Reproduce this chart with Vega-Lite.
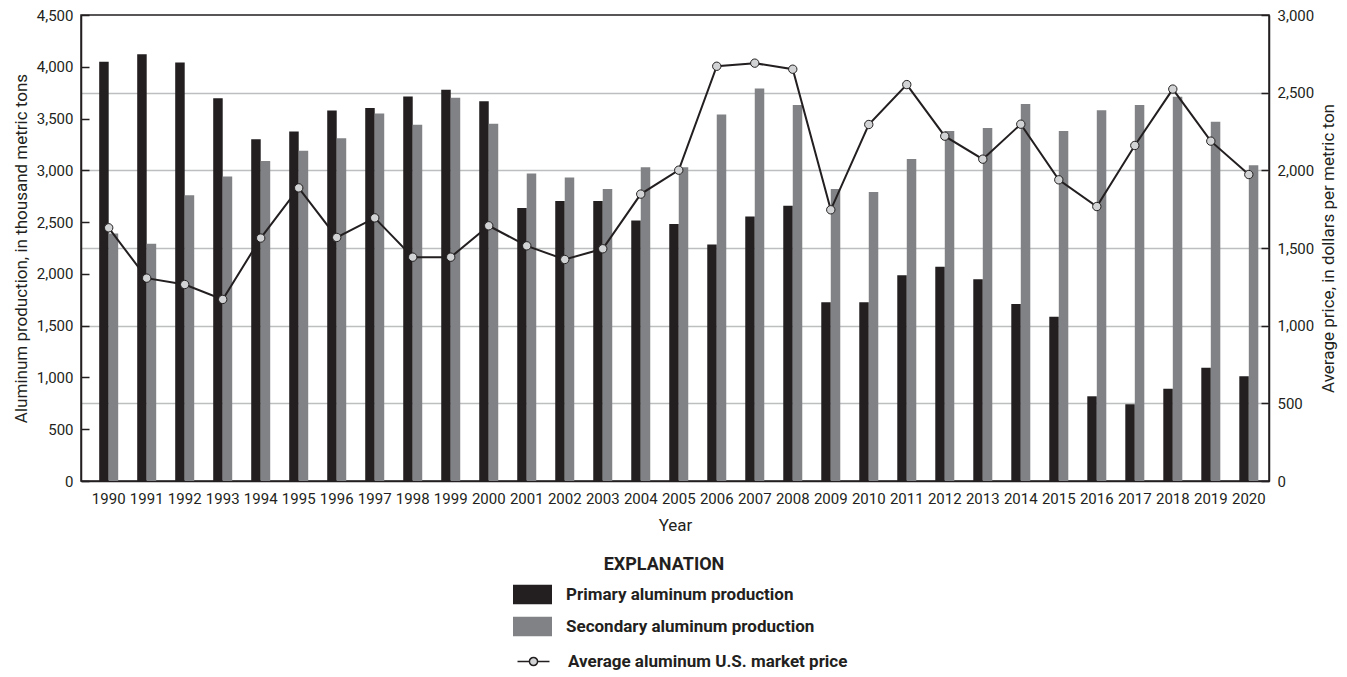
{
  "$schema": "https://vega.github.io/schema/vega-lite/v6.json",
  "width": 1188,
  "height": 466,
  "padding": {"left": 12, "top": 8, "right": 2, "bottom": 5},
  "config": {
    "font": "Roboto, sans-serif",
    "view": {"stroke": "#231f20", "strokeWidth": 1.5},
    "axis": {
      "labelFont": "Roboto, sans-serif",
      "labelFontSize": 15,
      "labelColor": "#231f20",
      "titleFont": "Roboto, sans-serif",
      "titleFontSize": 17,
      "titleFontWeight": "normal",
      "titleColor": "#231f20",
      "domainColor": "#231f20",
      "domainWidth": 1.5,
      "tickColor": "#231f20",
      "tickWidth": 1.5
    },
    "legend": {
      "labelFont": "Roboto, sans-serif",
      "titleFont": "Roboto, sans-serif",
      "padding": 0
    }
  },
  "data": {
    "values": [
      {"year": 1990, "primary": 4048, "secondary": 2390, "price": 1630},
      {"year": 1991, "primary": 4121, "secondary": 2290, "price": 1306},
      {"year": 1992, "primary": 4042, "secondary": 2760, "price": 1265},
      {"year": 1993, "primary": 3695, "secondary": 2940, "price": 1169},
      {"year": 1994, "primary": 3299, "secondary": 3090, "price": 1564},
      {"year": 1995, "primary": 3375, "secondary": 3190, "price": 1887},
      {"year": 1996, "primary": 3577, "secondary": 3310, "price": 1568},
      {"year": 1997, "primary": 3603, "secondary": 3550, "price": 1694},
      {"year": 1998, "primary": 3713, "secondary": 3440, "price": 1441},
      {"year": 1999, "primary": 3779, "secondary": 3700, "price": 1441},
      {"year": 2000, "primary": 3668, "secondary": 3450, "price": 1643},
      {"year": 2001, "primary": 2637, "secondary": 2970, "price": 1514},
      {"year": 2002, "primary": 2705, "secondary": 2930, "price": 1426},
      {"year": 2003, "primary": 2703, "secondary": 2820, "price": 1495},
      {"year": 2004, "primary": 2516, "secondary": 3030, "price": 1847},
      {"year": 2005, "primary": 2481, "secondary": 3030, "price": 2001},
      {"year": 2006, "primary": 2284, "secondary": 3540, "price": 2670},
      {"year": 2007, "primary": 2554, "secondary": 3790, "price": 2690},
      {"year": 2008, "primary": 2659, "secondary": 3630, "price": 2651},
      {"year": 2009, "primary": 1727, "secondary": 2820, "price": 1746},
      {"year": 2010, "primary": 1726, "secondary": 2790, "price": 2295},
      {"year": 2011, "primary": 1986, "secondary": 3110, "price": 2552},
      {"year": 2012, "primary": 2070, "secondary": 3380, "price": 2220},
      {"year": 2013, "primary": 1948, "secondary": 3410, "price": 2072},
      {"year": 2014, "primary": 1710, "secondary": 3640, "price": 2297},
      {"year": 2015, "primary": 1587, "secondary": 3380, "price": 1939},
      {"year": 2016, "primary": 818, "secondary": 3580, "price": 1767},
      {"year": 2017, "primary": 741, "secondary": 3630, "price": 2160},
      {"year": 2018, "primary": 891, "secondary": 3710, "price": 2523},
      {"year": 2019, "primary": 1093, "secondary": 3470, "price": 2188},
      {"year": 2020, "primary": 1012, "secondary": 3050, "price": 1973}
    ]
  },
  "encoding": {
    "x": {
      "field": "year",
      "type": "ordinal",
      "scale": {"paddingInner": 0.5, "paddingOuter": 0.38, "align": 0.63},
      "axis": {"title": "Year", "labelAngle": 0, "ticks": false, "labelPadding": 10, "titlePadding": 11, "grid": false}
    }
  },
  "layer": [
    {
      "transform": [{"fold": ["primary", "secondary"], "as": ["series", "value"]}],
      "mark": {"type": "bar"},
      "encoding": {
        "xOffset": {"field": "series", "type": "nominal", "scale": {"paddingInner": 0, "paddingOuter": 0}},
        "y": {
          "field": "value",
          "type": "quantitative",
          "scale": {"domain": [0, 4500], "nice": false},
          "axis": {
            "title": "Aluminum production, in thousand metric tons",
            "values": [0, 500, 1000, 1500, 2000, 2500, 3000, 3500, 4000, 4500],
            "format": ",.0f",
            "grid": false,
            "tickSize": -8,
            "labelPadding": 16,
            "titlePadding": 6
          }
        },
        "fill": {
          "field": "series",
          "type": "nominal",
          "scale": {"domain": ["primary", "secondary"], "range": ["#231f20", "#808285"]},
          "legend": {
            "title": "EXPLANATION",
            "orient": "none",
            "legendX": 432,
            "legendY": 541,
            "direction": "vertical",
            "titleFontSize": 18,
            "titleFontWeight": "bold",
            "titleColor": "#231f20",
            "titleAnchor": "middle",
            "titlePadding": 1,
            "symbolType": "M-1,-0.5H1V0.5H-1Z",
            "symbolSize": 1521,
            "symbolStrokeWidth": 0,
            "labelFontSize": 17,
            "labelFontWeight": "bold",
            "labelColor": "#231f20",
            "labelOffset": 14,
            "labelLimit": 400,
            "rowPadding": 2,
            "labelExpr": "datum.label == 'primary' ? 'Primary aluminum production' : 'Secondary aluminum production'"
          }
        }
      }
    },
    {
      "layer": [
        {
          "mark": {"type": "line", "strokeWidth": 2},
          "encoding": {
            "y": {
              "field": "price",
              "type": "quantitative",
              "scale": {"domain": [0, 3000], "nice": false},
              "axis": {
                "orient": "right",
                "title": "Average price, in dollars per metric ton",
                "titleAngle": 270,
                "values": [0, 250, 500, 750, 1000, 1250, 1500, 1750, 2000, 2250, 2500, 2750, 3000],
                "labelExpr": "datum.value % 500 === 0 ? format(datum.value, ',.0f') : ''",
                "grid": true,
                "gridColor": "#bcbec0",
                "gridWidth": 1.5,
                "gridOpacity": {"condition": {"test": "datum.value % 500 === 0 && datum.value > 0 && datum.value < 3000", "value": 1}, "value": 0},
                "tickSize": -8,
                "labelPadding": 16,
                "titlePadding": 24
              }
            },
            "stroke": {
              "datum": "Average aluminum U.S. market price",
              "type": "nominal",
              "scale": {"range": ["#231f20"]},
              "legend": {
                "title": null,
                "orient": "none",
                "legendX": 432,
                "legendY": 626,
                "symbolType": "M-0.82,0H-0.21M0.21,0H0.82M-0.21,0A0.21,0.21,0,1,0,0.21,0A0.21,0.21,0,1,0,-0.21,0Z",
                "symbolSize": 1521,
                "symbolStrokeWidth": 1.5,
                "symbolFillColor": "#d1d3d4",
                "labelFontSize": 17,
                "labelFontWeight": "bold",
                "labelColor": "#231f20",
                "labelOffset": 14,
                "labelLimit": 400
              }
            }
          }
        },
        {
          "mark": {"type": "point", "filled": true, "fill": "#d1d3d4", "stroke": "#231f20", "strokeWidth": 1, "size": 70, "opacity": 1},
          "encoding": {
            "y": {"field": "price", "type": "quantitative"}
          }
        }
      ]
    }
  ],
  "resolve": {"scale": {"y": "independent"}, "axis": {"y": "independent"}}
}
